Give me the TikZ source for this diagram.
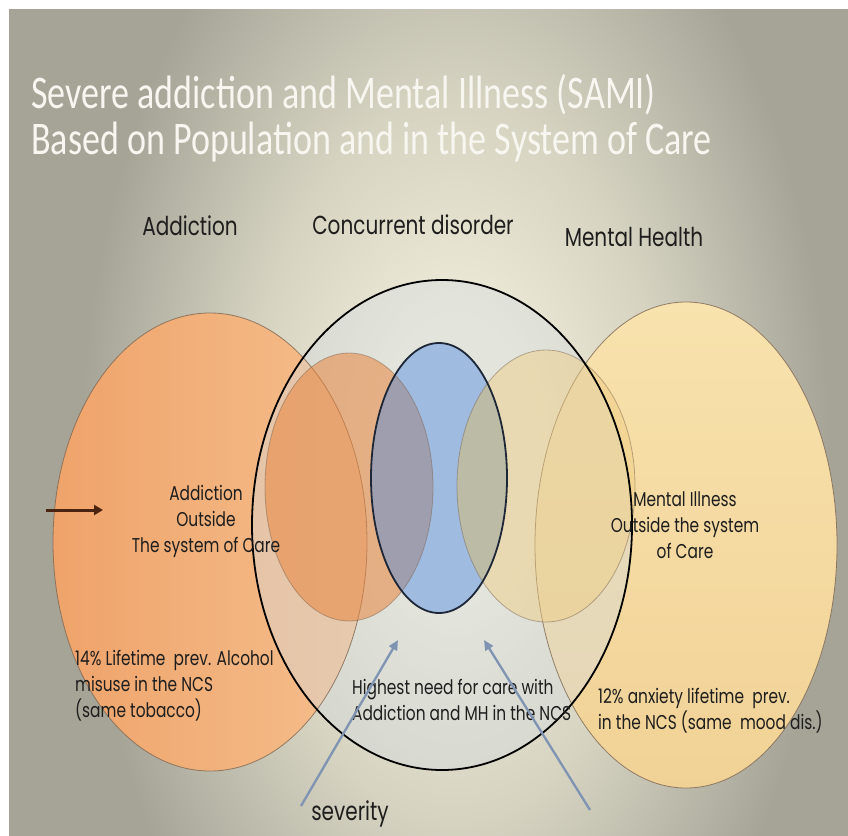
\documentclass[tikz,border=0pt]{standalone}
\usepackage{fontspec}
\usetikzlibrary{arrows.meta}
\newfontfamily\titlefont[FakeStretch=0.77]{Carlito}
\newfontfamily\bodyfont[FakeStretch=0.77]{Poppins}
\definecolor{bgc}{HTML}{EEEAD8}
\definecolor{bgm}{HTML}{D6D3C1}
\definecolor{bge}{HTML}{A5A497}
\definecolor{addL}{HTML}{EFA36A}
\definecolor{addR}{HTML}{F5BF8D}
\definecolor{mhT}{HTML}{F8E2AD}
\definecolor{mhB}{HTML}{F1D296}
\definecolor{edgeC}{HTML}{7D6652}
\definecolor{cdFill}{HTML}{D3DCE2}
\definecolor{smallOr}{HTML}{E8863F}
\definecolor{smallYe}{HTML}{F0CD80}
\definecolor{blueF}{HTML}{9FBBE0}
\definecolor{blueOr}{HTML}{9F9EAF}
\definecolor{blueYe}{HTML}{BCBCA6}
\definecolor{blueEdge}{HTML}{1D2738}
\definecolor{txt}{HTML}{1E1E1E}
\definecolor{titleC}{HTML}{F7F6F0}
\definecolor{arrBrown}{HTML}{4A2410}
\definecolor{arrBlue}{HTML}{7F94B3}
\pgfdeclareradialshading{bgshade}{\pgfpoint{0bp}{0bp}}{color(0bp)=(bgc); color(4bp)=(bgc); color(10bp)=(bgm); color(18bp)=(bge); color(50bp)=(bge)}
\tikzset{
  titletext/.style={font=\titlefont\fontsize{46.8}{50}\selectfont, text=titleC, inner sep=0pt},
  headtext/.style={font=\bodyfont\fontsize{26}{30}\selectfont, text=txt, inner sep=0pt},
  bodytext/.style={font=\bodyfont\fontsize{20}{26}\selectfont, text=txt, inner sep=0pt},
  edgeline/.style={draw=edgeC, draw opacity=0.8, line width=0.8pt},
  sevarrow/.style={draw=arrBlue, line width=2.3pt, -{Triangle[length=10pt,width=9pt]}},
}
\begin{document}
\begin{tikzpicture}[x=1pt,y=-1pt]
\useasboundingbox (0,0) rectangle (848,835);
\fill[white] (0,0) rectangle (848,835);
\begin{scope}
  \clip (9,9) rectangle (848,835);
  \fill[bge] (9,9) rectangle (848,835);
  \path[shading=bgshade] (455,460) ellipse [x radius=520pt, y radius=900pt];
\end{scope}
% centres
\coordinate (cA) at (210,542);
\coordinate (cM) at (686,545);
\coordinate (cC) at (442,525);
\coordinate (cO) at (349,487);
\coordinate (cB) at (439,478);
\coordinate (cY) at (546,486);
% big outer ellipses
\path[left color=addL, right color=addR] (cA) ellipse [x radius=157pt, y radius=229pt];
\path[top color=mhT, bottom color=mhB] (cM) ellipse [x radius=151pt, y radius=243pt];
% concurrent disorder circle
\fill[cdFill, fill opacity=0.4] (cC) ellipse [x radius=190pt, y radius=245pt];
\path[edgeline] (cA) ellipse [x radius=157pt, y radius=229pt];
\path[edgeline] (cM) ellipse [x radius=151pt, y radius=243pt];
% small inner ellipses
\fill[smallOr, fill opacity=0.55] (cO) ellipse [x radius=84pt, y radius=134pt];
\fill[smallYe, fill opacity=0.45] (cY) ellipse [x radius=89pt, y radius=136pt];
% blue core
\fill[blueF] (cB) ellipse [x radius=68pt, y radius=135pt];
\begin{scope}
  \clip (cB) ellipse [x radius=68pt, y radius=135pt];
  \fill[blueOr] (cO) ellipse [x radius=84pt, y radius=134pt];
  \fill[blueYe] (cY) ellipse [x radius=89pt, y radius=136pt];
\end{scope}
\path[edgeline, draw opacity=0.5] (cO) ellipse [x radius=84pt, y radius=134pt];
\path[edgeline, draw opacity=0.5] (cY) ellipse [x radius=89pt, y radius=136pt];
\draw[black, line width=1.8pt] (cC) ellipse [x radius=190pt, y radius=245pt];
\draw[blueEdge, line width=1.8pt] (cB) ellipse [x radius=68pt, y radius=135pt];
% title
\node[titletext, anchor=base west] (title1) at (31,108) {Severe addiction and Mental Illness (SAMI)};
\node[titletext, anchor=base west] (title2) at (31,154) {Based on Population and in the System of Care};
% headers
\node[headtext, anchor=base] (hAdd) at (190,235) {Addiction};
\node[headtext, anchor=base] (hCon) at (413,234) {Concurrent disorder};
\node[headtext, anchor=base] (hMH) at (634,246) {Mental Health};
% inner labels
\node[bodytext, align=center] (lAdd) at (206,521) {Addiction\\Outside\\The system of Care};
\node[bodytext, align=center] (lMH) at (685,525) {Mental Illness\\Outside the system\\of Care};
\node[bodytext, align=left, anchor=west] (lAlc) at (75,686) {14\% Lifetime\ \ prev. Alcohol\\misuse in the NCS\\(same tobacco)};
\node[bodytext, align=left, anchor=west] (lAnx) at (598,711) {12\% anxiety lifetime\ \ prev.\\in the NCS (same\ \ mood dis.)};
\node[bodytext, align=left, anchor=west] (lHigh) at (352,700) {Highest need for care with\\Addiction and MH in the NCS};
\node[headtext, font=\bodyfont\fontsize{26}{30}\selectfont] (lSev) at (350,814) {severity};
% arrows
\coordinate (b0) at (46,510);
\coordinate (b1) at (103,510);
\draw[arrBrown, line width=3pt, -{Triangle[length=9pt,width=10pt]}] (b0) -- (b1);
\coordinate (s0) at (301,806);
\coordinate (s1) at (398,640);
\coordinate (r0) at (590,810);
\coordinate (r1) at (484,640);
\draw[sevarrow] (s0) -- (s1);
\draw[sevarrow] (r0) -- (r1);
\end{tikzpicture}
\end{document}
